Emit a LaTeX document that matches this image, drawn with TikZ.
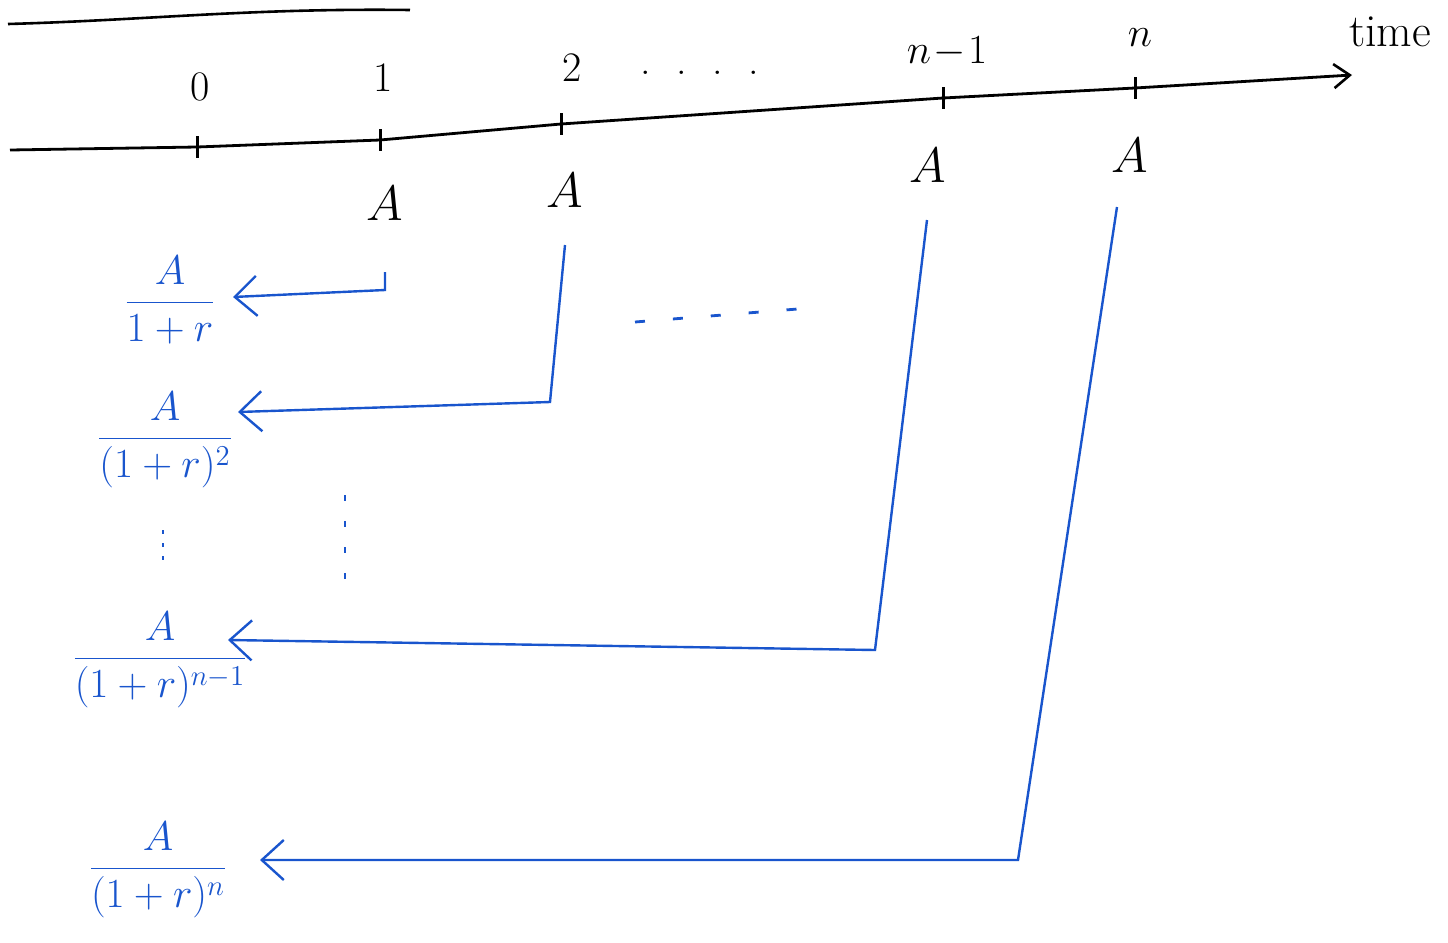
\documentclass[tikz,border=0pt]{standalone}
\usetikzlibrary{arrows.meta,calc}
\definecolor{pen}{RGB}{25,85,205}
\begin{document}
\begin{tikzpicture}[x=0.5pt,y=-0.5pt,
  axis/.style={line width=1.4pt,black},
  tick/.style={line width=1.5pt,black},
  lbl/.style={font=\fontsize{21}{25}\selectfont,inner sep=0pt},
  amt/.style={font=\fontsize{28}{32}\selectfont,inner sep=0pt},
  frac/.style={text=pen,inner sep=0pt,font=\fontsize{22}{26}\selectfont},
  flow/.style={pen,line width=1.2pt,-{Straight Barb[length=11pt,width=20pt,line width=1.2pt]}},
  dots/.style={pen,line width=1.4pt,dash pattern=on 5pt off 14pt}]
\useasboundingbox (0,0) rectangle (1448,943);
% header underline
\draw[line width=1.3pt] (8,24) .. controls (150,20) and (250,8) .. (410,10);
% timeline
\coordinate (t0) at (197,147);
\coordinate (t1) at (380,140);
\coordinate (t2) at (561,124);
\coordinate (tn1) at (943,98);
\coordinate (tn) at (1135,88);
\coordinate (tend) at (1352,75);
\draw[axis,-{Straight Barb[length=8pt,width=12pt,line width=1.3pt]}] (10,150) -- (t0) -- (t1) -- (t2) -- (tn1) -- (tn) -- (tend);
\foreach \p in {t0,t1,t2,tn1,tn} \draw[tick] ($(\p)+(0,-11)$) -- ($(\p)+(0,11)$);
% labels
\node[lbl] (l0) at (200,87) {0};
\node[lbl] (l1) at (383,78) {1};
\node[lbl] (l2) at (572,68) {2};
\node[lbl] (ldots) at (700,73) {.\ \ .\ \ .\ \ .};
\node[lbl] (ln1) at (947,52) {$n\!-\!1$};
\node[lbl] (ln) at (1140,38) {$n$};
\node[lbl,font=\fontsize{23}{27}\selectfont] (ltime) at (1390,32) {time};
% amounts
\node[amt] (A1) at (385,203) {$A$};
\node[amt] (A2) at (565,190) {$A$};
\node[amt] (An1) at (928,165) {$A$};
\node[amt] (An) at (1130,155) {$A$};
% fractions
\node[frac] (f1) at (170,300) {$\displaystyle\frac{A}{1+r}$};
\node[frac] (f2) at (165,440) {$\displaystyle\frac{A}{(1+r)^2}$};
\node[frac] (f3) at (160,660) {$\displaystyle\frac{A}{(1+r)^{n-1}}$};
\node[frac] (f4) at (158,870) {$\displaystyle\frac{A}{(1+r)^{n}}$};
% connectors
\coordinate (s1) at (385,272); \coordinate (k1) at (385,290); \coordinate (e1) at (233,297);
\coordinate (s2) at (565,245); \coordinate (k2) at (550,402); \coordinate (e2) at (238,412);
\coordinate (s3) at (927,220); \coordinate (k3) at (875,650); \coordinate (e3) at (228,640);
\coordinate (s4) at (1117,207); \coordinate (k4) at (1018,860); \coordinate (e4) at (260,860);
\draw[flow] (s1) -- (k1) -- (e1);
\draw[flow] (s2) -- (k2) -- (e2);
\draw[flow] (s3) -- (k3) -- (e3);
\draw[flow] (s4) -- (k4) -- (e4);
% ellipses
\coordinate (d1) at (635,322); \coordinate (d2) at (810,308);
\draw[dots] (d1) -- (d2);
\coordinate (v1) at (345,495); \coordinate (v2) at (345,595);
\draw[dots,dash pattern=on 3pt off 10pt] (v1) -- (v2);
\coordinate (w1) at (163,530); \coordinate (w2) at (163,568);
\draw[dots,dash pattern=on 2pt off 4.5pt] (w1) -- (w2);
\end{tikzpicture}
\end{document}
